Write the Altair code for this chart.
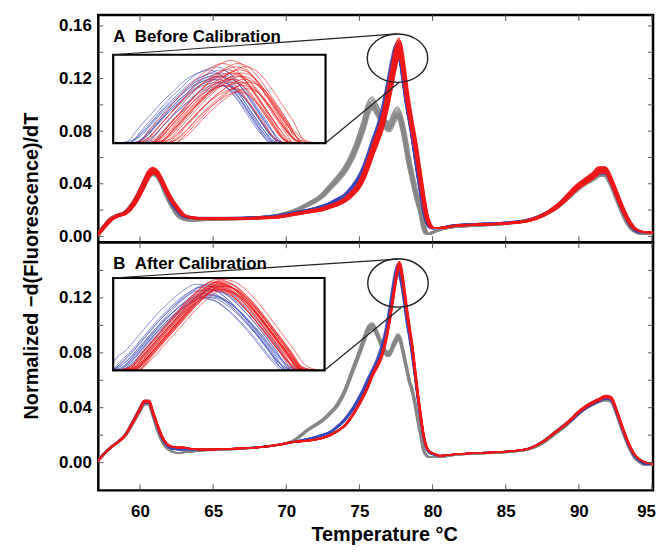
import altair as alt
import pandas as pd

# ---------------- data ----------------
T = [57.0, 57.6, 58.0, 58.5, 59.0, 59.5, 60.0, 60.3, 60.6, 60.9, 61.2, 61.5, 61.8, 62.2, 62.6, 63.0, 63.5,
     64.5, 66.0, 68.0, 69.5, 70.5,
     71.5, 72.5, 73.0, 73.5, 74.0, 74.5, 75.0, 75.3, 75.6, 75.9, 76.2, 76.5, 76.8,
     76.9, 77.0, 77.1, 77.2, 77.3, 77.4, 77.5, 77.6, 77.7, 77.8, 77.9, 78.0, 78.1, 78.2, 78.3, 78.4,
     78.6, 78.8, 79.0, 79.2, 79.4, 79.6, 79.8, 80.0,
     80.5, 81.5, 83.0, 85.0, 86.5, 87.5, 88.5, 89.0, 89.5, 90.0, 90.5, 91.0, 91.4, 91.8, 92.2, 92.6,
     93.0, 93.4, 93.8, 94.2, 94.6, 95.2]

A_RED = [0.000, 0.008, 0.013, 0.016, 0.018, 0.024, 0.034, 0.041, 0.048, 0.0505, 0.048, 0.042, 0.035, 0.027, 0.021, 0.016, 0.0145,
         0.0135, 0.0135, 0.014, 0.015, 0.017,
         0.019, 0.021, 0.023, 0.025, 0.028, 0.033, 0.040, 0.047, 0.056, 0.066, 0.075, 0.085, 0.099,
         0.104, 0.110, 0.116, 0.122, 0.128, 0.134, 0.139, 0.143, 0.145, 0.143, 0.137, 0.129, 0.121, 0.112, 0.104, 0.097,
         0.084, 0.072, 0.057, 0.042, 0.027, 0.015, 0.009, 0.0065,
         0.0065, 0.008, 0.009, 0.010, 0.012, 0.016, 0.023, 0.028, 0.034, 0.039, 0.043, 0.047, 0.051, 0.051, 0.043, 0.032,
         0.021, 0.012, 0.006, 0.004, 0.003, 0.003]
A_BLUE = [0.000, 0.008, 0.013, 0.016, 0.018, 0.024, 0.034, 0.041, 0.047, 0.049, 0.047, 0.041, 0.034, 0.025, 0.019, 0.015, 0.014,
          0.014, 0.014, 0.0145, 0.016, 0.018,
          0.020, 0.023, 0.025, 0.028, 0.031, 0.037, 0.045, 0.052, 0.061, 0.071, 0.080, 0.091, 0.106,
          0.111, 0.117, 0.123, 0.129, 0.134, 0.139, 0.142, 0.1435, 0.141, 0.135, 0.127, 0.119, 0.111, 0.103, 0.096, 0.090,
          0.077, 0.062, 0.047, 0.033, 0.020, 0.011, 0.007, 0.006,
          0.0065, 0.0085, 0.0095, 0.0105, 0.0125, 0.016, 0.023, 0.028, 0.033, 0.038, 0.042, 0.046, 0.049, 0.049, 0.042, 0.031,
          0.020, 0.011, 0.005, 0.003, 0.003, 0.003]
A_GREY = [0.000, 0.008, 0.013, 0.016, 0.018, 0.024, 0.033, 0.040, 0.046, 0.048, 0.046, 0.040, 0.032, 0.023, 0.016, 0.013, 0.012,
          0.0125, 0.013, 0.014, 0.016, 0.019,
          0.024, 0.031, 0.037, 0.043, 0.050, 0.060, 0.074, 0.084, 0.096, 0.100, 0.095, 0.089, 0.084,
          0.083, 0.082, 0.083, 0.085, 0.088, 0.090, 0.092, 0.093, 0.092, 0.089, 0.085, 0.080, 0.074, 0.068, 0.061, 0.055,
          0.045, 0.035, 0.026, 0.018, 0.007, 0.002, 0.002, 0.003,
          0.005, 0.007, 0.008, 0.0095, 0.012, 0.016, 0.022, 0.027, 0.032, 0.037, 0.041, 0.044, 0.047, 0.047, 0.040, 0.029,
          0.018, 0.009, 0.004, 0.002, 0.002, 0.002]

B_RED = [0.000, 0.007, 0.011, 0.015, 0.020, 0.029, 0.039, 0.0445, 0.0445, 0.036, 0.027, 0.019, 0.014, 0.0115, 0.011, 0.011, 0.010,
         0.0095, 0.010, 0.011, 0.013, 0.015,
         0.016, 0.018, 0.020, 0.023, 0.027, 0.034, 0.043, 0.049, 0.056, 0.064, 0.070, 0.077, 0.089,
         0.094, 0.100, 0.106, 0.113, 0.120, 0.127, 0.134, 0.140, 0.1435, 0.142, 0.137, 0.130, 0.122, 0.114, 0.106, 0.099,
         0.085, 0.067, 0.049, 0.033, 0.019, 0.011, 0.008, 0.007,
         0.005, 0.006, 0.007, 0.008, 0.010, 0.015, 0.023, 0.027, 0.032, 0.037, 0.041, 0.044, 0.046, 0.048, 0.047, 0.037,
         0.025, 0.014, 0.006, 0.002, 0.000, -0.001]
B_BLUE = [0.000, 0.007, 0.011, 0.015, 0.020, 0.029, 0.039, 0.044, 0.044, 0.035, 0.026, 0.018, 0.013, 0.010, 0.0095, 0.0095, 0.0095,
          0.0095, 0.010, 0.011, 0.013, 0.015,
          0.017, 0.020, 0.022, 0.026, 0.031, 0.038, 0.047, 0.053, 0.060, 0.066, 0.073, 0.082, 0.094,
          0.100, 0.106, 0.112, 0.119, 0.126, 0.132, 0.137, 0.140, 0.139, 0.135, 0.129, 0.122, 0.114, 0.106, 0.099, 0.093,
          0.079, 0.063, 0.046, 0.031, 0.018, 0.010, 0.007, 0.006,
          0.005, 0.006, 0.007, 0.008, 0.010, 0.015, 0.023, 0.027, 0.031, 0.036, 0.040, 0.043, 0.045, 0.047, 0.046, 0.036,
          0.024, 0.013, 0.005, 0.001, -0.001, -0.001]
B_GREY = [0.000, 0.007, 0.011, 0.015, 0.020, 0.029, 0.038, 0.043, 0.043, 0.034, 0.024, 0.016, 0.011, 0.008, 0.007, 0.0075, 0.008,
          0.009, 0.0095, 0.011, 0.013, 0.016,
          0.024, 0.031, 0.036, 0.042, 0.052, 0.066, 0.080, 0.089, 0.097, 0.099, 0.094, 0.086, 0.080,
          0.079, 0.079, 0.080, 0.082, 0.085, 0.087, 0.089, 0.091, 0.091, 0.089, 0.085, 0.080, 0.075, 0.070, 0.065, 0.060,
          0.053, 0.043, 0.031, 0.020, 0.009, 0.005, 0.004, 0.004,
          0.004, 0.0055, 0.0065, 0.0075, 0.0095, 0.014, 0.022, 0.026, 0.031, 0.036, 0.040, 0.043, 0.045, 0.046, 0.045, 0.035,
          0.023, 0.012, 0.004, 0.000, -0.002, -0.002]

# per-replicate spread (peak temperature offset in degC, height factor)
A_RED_SHIFT = [-0.12, -0.09, -0.07, -0.05, -0.04, -0.02, -0.01, 0.0, 0.01, 0.02, 0.03, 0.04,
               0.05, 0.06, 0.07, 0.08, 0.09, 0.10, 0.11, 0.13, -0.03, 0.0, 0.04, 0.07]
A_RED_SCALE = [0.99, 1.03, 0.96, 1.01, 0.98, 1.04, 0.97, 1.00, 0.95, 1.02, 0.99, 0.94,
               1.01, 0.97, 1.00, 0.96, 0.98, 1.02, 0.95, 0.97, 1.00, 0.98, 1.03, 0.99]
A_BLUE_SHIFT = [-0.10, -0.08, -0.06, -0.05, -0.04, -0.03, -0.02, -0.01, 0.00, 0.01, 0.02, 0.03, -0.07, 0.00]
A_BLUE_SCALE = [1.02, 0.99, 1.01, 0.98, 1.03, 0.99, 1.00, 0.97, 1.01, 0.98, 1.00, 0.97, 1.00, 1.02]
A_GREY_SHIFT = [-0.15, -0.12, -0.10, -0.08, -0.06, -0.04, -0.02, 0.0, 0.0, 0.02, 0.04, 0.06, 0.08, 0.10, 0.12, 0.15]
A_GREY_SCALE = [1.02, 0.98, 1.05, 0.99, 1.01, 0.97, 1.03, 1.00, 1.06, 0.98, 1.01, 0.99, 1.04, 0.97, 1.00, 1.02]
B_RED_SHIFT = [-0.045, -0.04, -0.03, -0.025, -0.02, -0.015, -0.01, -0.005, 0.0, 0.0, 0.005, 0.01,
               0.015, 0.02, 0.025, 0.03, 0.035, 0.04, 0.045, -0.035, -0.005, 0.01, 0.02, 0.03]
B_RED_SCALE = [1.00, 1.01, 0.99, 1.015, 1.00, 0.985, 1.01, 1.02, 0.99, 1.00, 1.005, 0.995,
               1.015, 0.99, 1.00, 1.01, 0.985, 1.00, 1.02, 0.995, 1.01, 0.99, 1.005, 1.00]
B_BLUE_SHIFT = [-0.05, -0.04, -0.03, -0.025, -0.02, -0.01, 0.0, 0.0, 0.01, 0.02, 0.025, 0.03, 0.04, 0.05]
B_BLUE_SCALE = [1.03, 0.99, 1.01, 1.02, 0.985, 1.00, 1.025, 0.99, 1.00, 1.015, 0.995, 1.03, 0.99, 1.01]
B_GREY_SHIFT = [-0.08, -0.06, -0.05, -0.04, -0.03, -0.02, -0.01, 0.0, 0.0, 0.01, 0.02, 0.03, 0.04, 0.05, 0.06, 0.08]
B_GREY_SCALE = [1.00, 1.02, 0.98, 1.01, 0.99, 1.03, 1.00, 0.98, 1.02, 1.00, 0.99, 1.01, 0.98, 1.02, 1.00, 0.99]

X_TICKS = [60, 65, 70, 75, 80, 85, 90, 95]
Y_LABELS_A = [0.00, 0.04, 0.08, 0.12, 0.16]
Y_LABELS_B = [0.00, 0.04, 0.08, 0.12]
Y_MINOR_A = [0.00, 0.02, 0.04, 0.06, 0.08, 0.10, 0.12, 0.14, 0.16]
Y_MINOR_B = [0.00, 0.02, 0.04, 0.06, 0.08, 0.10, 0.12, 0.14]

TITLE_A = "A\u00a0\u00a0Before Calibration"
TITLE_B = "B\u00a0\u00a0After Calibration"
Y_TITLE = "Normalized \u2212d(Fluorescence)/dT"
X_TITLE = "Temperature \u00b0C"

# ---------------- styling / layout ----------------
FONT = "Liberation Sans"
W = 559
HA, HB = 229, 250
XDOM = [57.15, 95.07]
YDOM_A = [-0.0045, 0.1683]
YDOM_B = [-0.0202, 0.1605]
RED, BLUE, GREY = "#f01818", "#3a48b8", "#878787"
ELLIPSE = "M -1 0 A 1 0.8 0 1 1 1 0 A 1 0.8 0 1 1 -1 0 Z"


def replicate(base, shifts, scales, name):
    rows = []
    for k, (s, f) in enumerate(zip(shifts, scales)):
        for t, v in zip(T, base):
            rows.append({"T": t + s, "v": v * f, "curve": f"{name}{k}"})
    return pd.DataFrame(rows)


def inset_subset(df, x0, x1, y0):
    parts = []
    for _, g in df.groupby("curve", sort=False):
        g = g.reset_index(drop=True)
        inside = (g["T"] >= x0) & (g["T"] <= x1) & (g["v"] >= y0)
        keep = inside | inside.shift(1, fill_value=False) | inside.shift(-1, fill_value=False)
        parts.append(g[keep])
    return pd.concat(parts, ignore_index=True)


def panel(H, ydom, grey, blue, red, ylabels, yminor, title, inset, show_x):
    xs = alt.Scale(domain=XDOM, nice=False, zero=False)
    ys = alt.Scale(domain=ydom, nice=False, zero=False)
    if show_x:
        xaxis = alt.Axis(values=X_TICKS, format="d", ticks=False, tickSize=0, domain=False, grid=False,
                         labelFont=FONT, labelFontSize=17, labelFontWeight="bold", labelColor="black",
                         labelPadding=13, labelFlush=5, labelFlushOffset=3.5,
                         title=X_TITLE, titleFont=FONT, titleFontSize=20,
                         titleFontWeight="bold", titleColor="black", titlePadding=6, titleX=288)
    else:
        xaxis = None
    yaxis = alt.Axis(values=ylabels, format=".2f", ticks=False, tickSize=0, domain=False, grid=False,
                     labelFont=FONT, labelFontSize=17, labelFontWeight="bold", labelColor="black",
                     labelPadding=7, title=None)

    def line(df, color, sw, op, axes):
        return alt.Chart(df).mark_line(color=color, strokeWidth=sw, opacity=op, clip=True,
                                       interpolate="monotone").encode(
            x=alt.X("T:Q", scale=xs, axis=xaxis if axes else None),
            y=alt.Y("v:Q", scale=ys, axis=yaxis if axes else None),
            detail="curve:N")

    xt = pd.DataFrame({"t": X_TICKS})
    yt = pd.DataFrame({"tv": yminor})
    tick_style = dict(color="#555555", strokeWidth=1)
    xt_top = alt.Chart(xt).mark_rule(**tick_style).encode(
        x=alt.X("t:Q", scale=xs, axis=None), y=alt.value(0), y2=alt.value(6))
    xt_bot = alt.Chart(xt).mark_rule(**tick_style).encode(
        x=alt.X("t:Q", scale=xs, axis=None), y=alt.value(H - 6), y2=alt.value(H))
    yt_l = alt.Chart(yt).mark_rule(**tick_style).encode(
        y=alt.Y("tv:Q", scale=ys, axis=None), x=alt.value(0), x2=alt.value(5))
    yt_r = alt.Chart(yt).mark_rule(**tick_style).encode(
        y=alt.Y("tv:Q", scale=ys, axis=None), x=alt.value(W - 5), x2=alt.value(W))

    # inset (zoom on the main peak)
    (ix0, ix1, iy0, iy1, bx0, bx1, by0, by1, ex, ey, top_line, bot_line) = inset
    ixs = alt.Scale(domain=[ix0, ix1], range=[bx0, bx1], nice=False, zero=False, clamp=True)
    iys = alt.Scale(domain=[iy0, iy1], range=[by1, by0], nice=False, zero=False, clamp=True)

    def inset_line(df, color, op):
        sub = inset_subset(df, ix0, ix1, iy0)
        return alt.Chart(sub).mark_line(color=color, strokeWidth=1.0, opacity=op,
                                        interpolate="monotone").encode(
            x=alt.X("T:Q", scale=ixs, axis=None),
            y=alt.Y("v:Q", scale=iys, axis=None),
            detail="curve:N")

    box = alt.Chart().mark_rect(fillOpacity=0, stroke="black", strokeWidth=2.2).encode(
        x=alt.value(bx0), x2=alt.value(bx1), y=alt.value(by0), y2=alt.value(by1))
    l1 = alt.Chart().mark_rule(color="#222222", strokeWidth=1.2).encode(
        x=alt.value(top_line[0]), y=alt.value(top_line[1]), x2=alt.value(top_line[2]), y2=alt.value(top_line[3]))
    l2 = alt.Chart().mark_rule(color="#222222", strokeWidth=1.2).encode(
        x=alt.value(bot_line[0]), y=alt.value(bot_line[1]), x2=alt.value(bot_line[2]), y2=alt.value(bot_line[3]))
    ell = alt.Chart().mark_point(shape=ELLIPSE, size=61 * 61, filled=False, stroke="#222222",
                                 strokeWidth=1.4, opacity=1).encode(x=alt.value(ex), y=alt.value(ey))
    ttl = alt.Chart().mark_text(text=title, font=FONT, fontSize=17, fontWeight="bold", align="left",
                                baseline="alphabetic", color="black").encode(x=alt.value(15), y=alt.value(27))

    layers = [line(grey, GREY, 1.3, 0.75, True), line(blue, BLUE, 1.2, 0.8, False),
              line(red, RED, 1.2, 0.8, False), xt_top, xt_bot, yt_l, yt_r,
              inset_line(blue, BLUE, 0.6), inset_line(red, RED, 0.6), box, l1, l2, ell, ttl]
    if show_x:
        ytitle = alt.Chart().mark_text(text=Y_TITLE, font=FONT, fontSize=20, fontWeight="bold", angle=270,
                                       align="center", baseline="middle", color="black").encode(
            x=alt.value(-67), y=alt.value(24))
        layers.append(ytitle)
    return alt.layer(*layers).resolve_scale(x="independent", y="independent").properties(width=W, height=H)


a_grey = replicate(A_GREY, A_GREY_SHIFT, A_GREY_SCALE, "ag")
a_blue = replicate(A_BLUE, A_BLUE_SHIFT, A_BLUE_SCALE, "ab")
a_red = replicate(A_RED, A_RED_SHIFT, A_RED_SCALE, "ar")
b_grey = replicate(B_GREY, B_GREY_SHIFT, B_GREY_SCALE, "bg")
b_blue = replicate(B_BLUE, B_BLUE_SHIFT, B_BLUE_SCALE, "bb")
b_red = replicate(B_RED, B_RED_SHIFT, B_RED_SCALE, "br")

inset_a = (76.69, 78.48, 0.1127, 0.1534, 15, 229, 40, 129, 301.5, 43.5,
           (15, 40, 301, 19), (229, 129, 303, 68))
inset_b = (76.95, 78.48, 0.106, 0.147, 15, 228, 36, 129, 302, 41,
           (15, 36, 302, 17), (228, 129, 305, 66))

pa = panel(HA, YDOM_A, a_grey, a_blue, a_red, Y_LABELS_A, Y_MINOR_A, TITLE_A, inset_a, False)
pb = panel(HB, YDOM_B, b_grey, b_blue, b_red, Y_LABELS_B, Y_MINOR_B, TITLE_B, inset_b, True)

chart = alt.vconcat(pa, pb, spacing=0, bounds="flush").properties(
    padding={"left": 12, "top": 3, "right": 0, "bottom": 0}
).configure_view(stroke="black", strokeWidth=2.5)

chart.save("out.html", embed_options={"renderer": "svg", "actions": False})
